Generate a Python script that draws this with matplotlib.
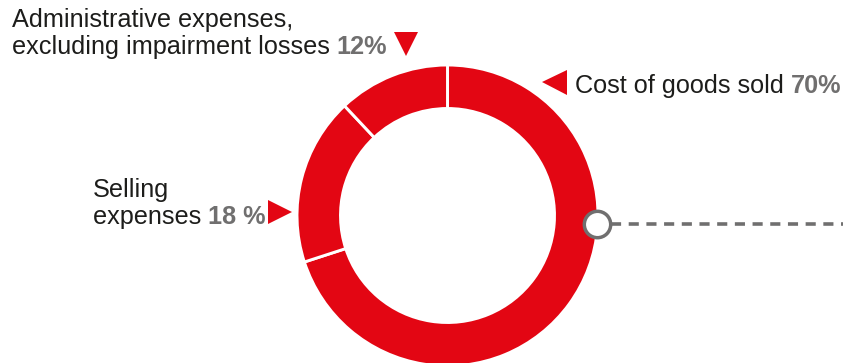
import matplotlib
matplotlib.use("Agg")
import matplotlib.pyplot as plt

# ---- data ----
categories = ["Cost of goods sold", "Selling expenses", "Administrative expenses, excluding impairment losses"]
shares = [70, 18, 12]
label_lines = [
    ["Cost of goods sold "],
    ["Selling", "expenses "],
    ["Administrative expenses,", "excluding impairment losses "],
]
pct_labels = ["70%", "18 %", "12%"]

RED = "#E30613"
GRAY = "#706F6F"
BLACK = "#1D1D1B"
FONT = "Liberation Sans"
FS = 18.2

W, H, DPI = 843, 363, 100
fig = plt.figure(figsize=(W / DPI, H / DPI), dpi=DPI)
ax = fig.add_axes([0, 0, 1, 1])

cx, cy, r_out, ring = 447.5, 215.5, 150.5, 43.5
ax.pie(shares, colors=[RED] * len(shares), startangle=-90, counterclock=True,
       center=(cx, cy), radius=r_out,
       wedgeprops=dict(width=ring, edgecolor="white", linewidth=2.1))
ax.set_xlim(0, W)
ax.set_ylim(H, 0)
ax.set_aspect("equal")
ax.axis("off")

# connector line + marker
ax.plot([611, W + 5], [224, 224], color=GRAY, lw=2.6, ls=(0, (2.8, 2.1)),
        solid_capstyle="butt", dash_capstyle="butt", zorder=3)
ax.plot([596.5], [224], marker="o", ms=19, mfc="white", mec=GRAY, mew=2.5, zorder=4)

# triangles
ax.plot([554], [82], marker="<", ms=18, color=RED, mew=0)
ax.plot([280], [212], marker=">", ms=17, color=RED, mew=0)
ax.plot([405.5], [43.5], marker="v", ms=17.5, color=RED, mew=0)

# labels: (x, baselines) for each category
positions = [(575, [93]), (93, [197, 224]), (12, [27, 54])]

fig.canvas.draw()
renderer = fig.canvas.get_renderer()
inv = ax.transData.inverted()
for lines, pct, (x, ys) in zip(label_lines, pct_labels, positions):
    last = None
    for ln, y in zip(lines, ys):
        last = ax.text(x, y, ln, family=FONT, fontsize=FS, color=BLACK,
                       ha="left", va="baseline")
    bb = last.get_window_extent(renderer=renderer)
    xr = inv.transform((bb.x1, bb.y0))[0]
    ax.text(xr, ys[-1], pct, family=FONT, fontsize=FS, color=GRAY,
            fontweight="bold", ha="left", va="baseline")

fig.savefig("out.png", dpi=DPI)
